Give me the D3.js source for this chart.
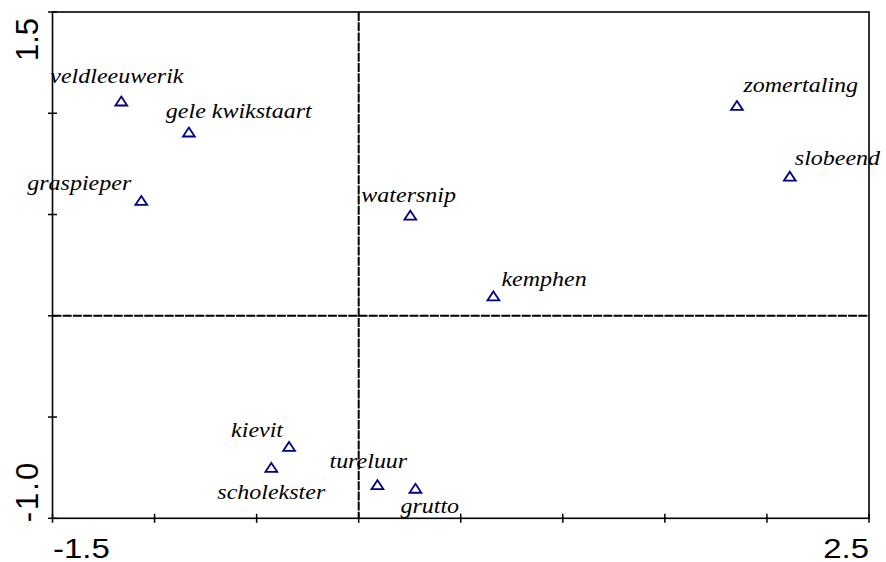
<!DOCTYPE html>
<html><head><meta charset="utf-8">
<script src="https://cdn.jsdelivr.net/npm/d3@7"></script>
<style>html,body{margin:0;padding:0;background:#fff;overflow:hidden;}</style>
</head><body>
<svg id="c" width="886" height="562"></svg>
<script>
// ---- data ----
const species = ["veldleeuwerik","gele kwikstaart","graspieper","watersnip","kemphen","zomertaling","slobeend","kievit","scholekster","tureluur","grutto"];
const axis1 = [-1.163,-0.832,-1.065,0.253,0.660,1.853,2.112,-0.341,-0.428,0.092,0.278];
const axis2 = [1.058,0.905,0.567,0.495,0.096,1.036,0.687,-0.647,-0.751,-0.836,-0.854];
const xDomain = [-1.5, 2.5];
const yDomain = [-1.0, 1.5];
const xTickLabels = ["-1.5","2.5"];
const yTickLabels = ["-1.0","1.5"];

// ---- layout (label offsets in px from the marker) ----
const labelOffsets = [[-71,-19],[-23,-14],[-114,-11],[-49,-14],[8,-10],[6.5,-14],[5,-12],[-58,-9.5],[-54,31.5],[-48,-17],[-15,24]];

const svg = d3.select("#c");
const x = d3.scaleLinear().domain(xDomain).range([52.5, 869]);
const y = d3.scaleLinear().domain(yDomain).range([518.3, 12]);

const pts = species.map((s,i)=>({name:s, a1:axis1[i], a2:axis2[i], off:labelOffsets[i]}));

// zero lines (dashed)
svg.append("line").attr("x1",x(0)).attr("x2",x(0)).attr("y1",y(yDomain[1])).attr("y2",y(yDomain[0]))
  .attr("stroke","#000").attr("stroke-width",2).attr("stroke-dasharray","9,1.2");
svg.append("line").attr("x1",x(xDomain[0])).attr("x2",x(xDomain[1])).attr("y1",y(0)).attr("y2",y(0))
  .attr("stroke","#000").attr("stroke-width",2).attr("stroke-dasharray","9,1.2");

// frame
svg.append("rect").attr("x",x(xDomain[0])).attr("y",y(yDomain[1]))
  .attr("width",x(xDomain[1])-x(xDomain[0])).attr("height",y(yDomain[0])-y(yDomain[1]))
  .attr("fill","none").attr("stroke","#000").attr("stroke-width",1.6);

// ticks (crossing the axis)
const xt = d3.range(xDomain[0], xDomain[1]+0.001, 0.5);
const yt = d3.range(yDomain[0], yDomain[1]+0.001, 0.5);
svg.append("g").selectAll("line").data(xt).join("line")
  .attr("x1",d=>x(d)).attr("x2",d=>x(d)).attr("y1",y(yDomain[0])-4.5).attr("y2",y(yDomain[0])+4.5)
  .attr("stroke","#000").attr("stroke-width",1.5);
svg.append("g").selectAll("line").data(yt).join("line")
  .attr("y1",d=>y(d)).attr("y2",d=>y(d)).attr("x1",x(xDomain[0])-4.5).attr("x2",x(xDomain[0])+4.5)
  .attr("stroke","#000").attr("stroke-width",1.5);

// tick labels
const axFont = "'Liberation Sans', Arial, sans-serif";
svg.append("text").text(xTickLabels[0])
  .attr("transform",`translate(${x(xDomain[0])+0.5},557.5) scale(1.22,1)`)
  .attr("font-family",axFont).attr("font-size",27).attr("text-anchor","start");
svg.append("text").text(xTickLabels[1])
  .attr("transform",`translate(${x(xDomain[1])},557.5) scale(1.22,1)`)
  .attr("font-family",axFont).attr("font-size",27).attr("text-anchor","end");
svg.append("text").text(yTickLabels[0])
  .attr("transform",`translate(37.8,${y(yDomain[0])+4}) rotate(-90)`)
  .attr("font-family",axFont).attr("font-size",31).attr("letter-spacing",2).attr("text-anchor","start");
svg.append("text").text(yTickLabels[1])
  .attr("transform",`translate(37.8,${y(yDomain[1])+6}) rotate(-90)`)
  .attr("font-family",axFont).attr("font-size",31).attr("text-anchor","end");

// markers: open triangles
const tri = "M0,-4.9L5.9,4L-5.9,4Z";
svg.append("g").selectAll("path").data(pts).join("path")
  .attr("d",tri)
  .attr("transform",d=>`translate(${x(d.a1)},${y(d.a2)})`)
  .attr("fill","none").attr("stroke","#000080").attr("stroke-width",1.8).attr("stroke-linejoin","miter");

// labels
svg.append("g").selectAll("text").data(pts).join("text")
  .text(d=>d.name)
  .attr("transform",d=>`translate(${x(d.a1)+d.off[0]},${y(d.a2)+d.off[1]}) scale(1.2,1)`)
  .attr("font-family","'Liberation Serif','Times New Roman',Times,serif")
  .attr("font-style","italic").attr("font-size",20).attr("fill","#000");
</script>
</body></html>
